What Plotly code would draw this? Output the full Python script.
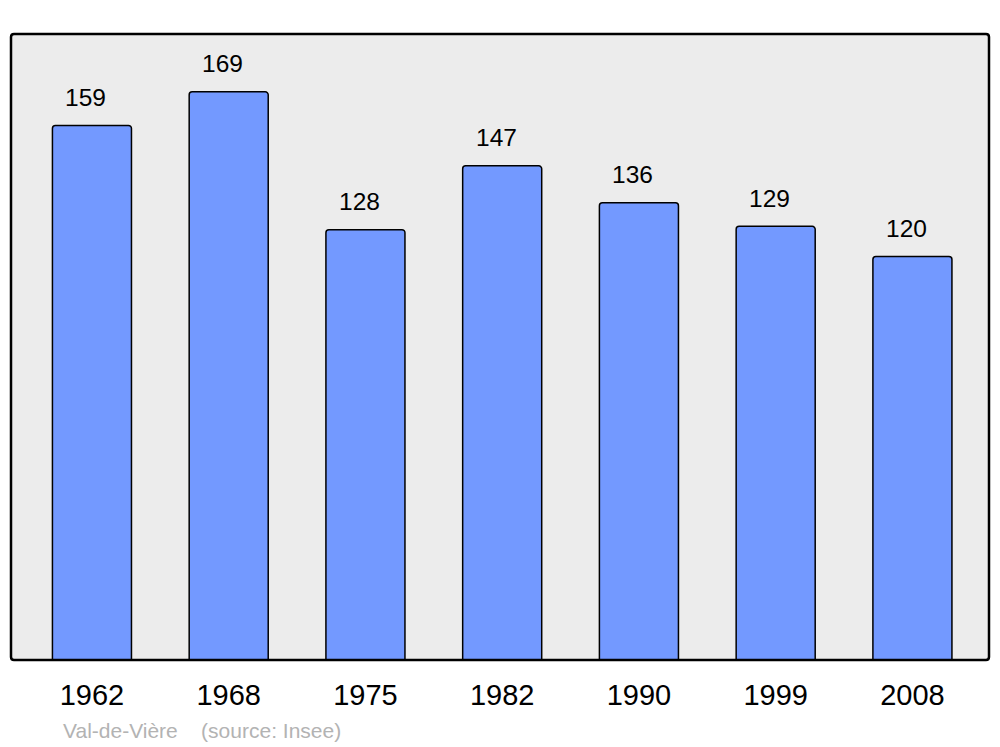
import plotly.graph_objects as go

years = ["1962", "1968", "1975", "1982", "1990", "1999", "2008"]
population = [159, 169, 128, 147, 136, 129, 120]
commune = "Val-de-Vière"
source = "(source: Insee)"

FONT = "Liberation Sans, Arial, sans-serif"

fig = go.Figure()
fig.add_trace(go.Bar(
    x=years, y=population,
    width=0.578,
    marker=dict(color="#7399ff", line=dict(color="black", width=1.5)),
    hoverinfo="skip",
))

for i, v in enumerate(population):
    fig.add_annotation(x=i, y=v, text=str(v), showarrow=False,
                       yanchor="middle", yshift=28, xshift=-6,
                       font=dict(family=FONT, size=24.5, color="black"))

fig.add_annotation(xref="paper", yref="paper", x=0.0511, y=-0.112,
                   xanchor="left", yanchor="middle", showarrow=False,
                   text=commune + "&nbsp;&nbsp;&nbsp;&nbsp;" + source,
                   font=dict(family=FONT, size=21, color="#b3b3b3"))

# rounded plot frame
rx, ry = 3 / 978, 3 / 626
path = (f"M {rx},0 L {1-rx},0 Q 1,0 1,{ry} L 1,{1-ry} Q 1,1 {1-rx},1 "
        f"L {rx},1 Q 0,1 0,{1-ry} L 0,{ry} Q 0,0 {rx},0 Z")
fig.add_shape(type="path", xref="paper", yref="paper", path=path,
              line=dict(color="black", width=2.5), layer="above")

fig.update_layout(
    width=1000, height=747,
    margin=dict(l=11, r=11, t=34, b=87),
    paper_bgcolor="white", plot_bgcolor="#ececec",
    barcornerradius=3,
    showlegend=False,
    xaxis=dict(type="category", range=[-0.592, 6.56], showgrid=False, zeroline=False,
               ticks="", ticklabelstandoff=15, showline=False,
               tickfont=dict(family=FONT, size=29, color="black")),
    yaxis=dict(range=[0, 186.2], showgrid=False, zeroline=False, showticklabels=False,
               ticks="", showline=False),
)

fig.write_html("out.html", config={"displayModeBar": False},
               post_script="document.body.style.margin='0';document.body.style.overflow='hidden';")
